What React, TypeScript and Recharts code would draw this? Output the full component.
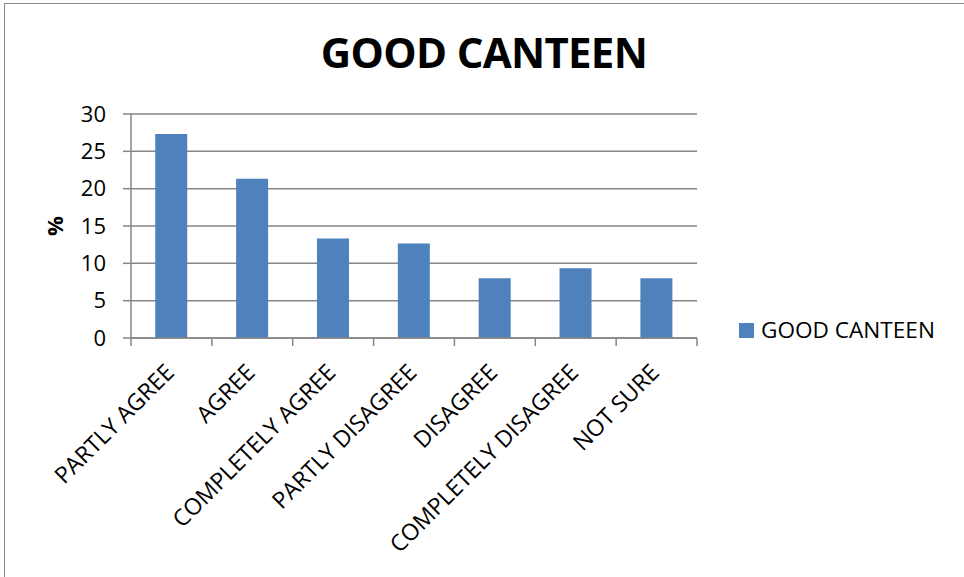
import React from "react";
import { BarChart, Bar, XAxis, YAxis, CartesianGrid } from "recharts";

const categories = [
  "PARTLY AGREE",
  "AGREE",
  "COMPLETELY AGREE",
  "PARTLY DISAGREE",
  "DISAGREE",
  "COMPLETELY DISAGREE",
  "NOT SURE",
];
const goodCanteen = [27.33, 21.33, 13.33, 12.67, 8, 9.33, 8];
const yTicks = [0, 5, 10, 15, 20, 25, 30];
const seriesName = "GOOD CANTEEN";
const chartTitle = "GOOD CANTEEN";
const yLabel = "%";

const data = categories.map((c, i) => ({ name: c, value: goodCanteen[i] }));

const W = 964;
const H = 577;
const M = { top: 114, right: 267, bottom: 209, left: 40 };
const Y_W = 91;
const X_H = 30;
const plotLeft = M.left + Y_W;
const plotWidth = W - M.right - plotLeft;
const band = plotWidth / categories.length;
const FONT = "'Open Sans', sans-serif";
const AXIS = "#868686";

const XTick = (props: any) => {
  const { x, y, payload, index } = props;
  const axisY = y - 8;
  const half = band / 2;
  return (
    <g>
      <line x1={x - half} x2={x - half} y1={axisY} y2={axisY + 8} stroke={AXIS} strokeWidth={1.5} />
      {index === categories.length - 1 && (
        <line x1={x + half} x2={x + half} y1={axisY} y2={axisY + 8} stroke={AXIS} strokeWidth={1.5} />
      )}
      <text
        x={x + 4}
        y={y + 28}
        textAnchor="end"
        transform={`rotate(-45, ${x + 4}, ${y + 28})`}
        fontFamily={FONT}
        fontSize={23}
        fill="#000"
      >
        {payload.value}
      </text>
    </g>
  );
};

export default function App() {
  return (
    <div
      style={{
        position: "absolute",
        left: 0,
        top: 0,
        width: W,
        height: H,
        overflow: "hidden",
        background: "#fff",
        fontFamily: FONT,
      }}
    >
      <div
        style={{
          position: "absolute",
          left: 4,
          top: 3,
          width: W,
          height: H,
          borderTop: "1.5px solid #888",
          borderLeft: "1.5px solid #888",
        }}
      />
      <div
        style={{
          position: "absolute",
          left: 0,
          width: 968,
          top: 22,
          textAlign: "center",
          fontSize: 42,
          fontWeight: 700,
          lineHeight: "60px",
          color: "#000",
          letterSpacing: -0.7,
        }}
      >
        {chartTitle}
      </div>
      <div style={{ position: "absolute", left: 0, top: 0 }}>
        <BarChart width={W} height={H} data={data} margin={M} barCategoryGap="30%">
          <CartesianGrid vertical={false} stroke={AXIS} strokeWidth={1.5} />
          <XAxis
            dataKey="name"
            height={X_H}
            interval={0}
            tickLine={false}
            tickSize={8}
            tickMargin={0}
            axisLine={{ stroke: AXIS, strokeWidth: 1.5 }}
            tick={<XTick />}
          />
          <YAxis
            width={Y_W}
            domain={[0, 30]}
            ticks={yTicks}
            interval={0}
            tickSize={8}
            tickMargin={17}
            axisLine={{ stroke: AXIS, strokeWidth: 1.5 }}
            tickLine={{ stroke: AXIS, strokeWidth: 1.5 }}
            tick={{ fill: "#000", fontSize: 22, fontFamily: FONT }}
            label={{
              value: yLabel,
              angle: -90,
              position: "insideLeft",
              offset: 15,
              style: { fill: "#000", fontSize: 22, fontWeight: 700, fontFamily: FONT, textAnchor: "middle" },
            }}
          />
          <Bar dataKey="value" name={seriesName} fill="#4F81BD" isAnimationActive={false} />
        </BarChart>
      </div>
      <div
        style={{
          position: "absolute",
          left: 739,
          top: 315,
          display: "flex",
          alignItems: "center",
          fontSize: 22.6,
          color: "#000",
          lineHeight: "30px",
        }}
      >
        <span style={{ display: "inline-block", width: 15, height: 15, background: "#4F81BD", marginRight: 7 }} />
        <span>{seriesName}</span>
      </div>
    </div>
  );
}
